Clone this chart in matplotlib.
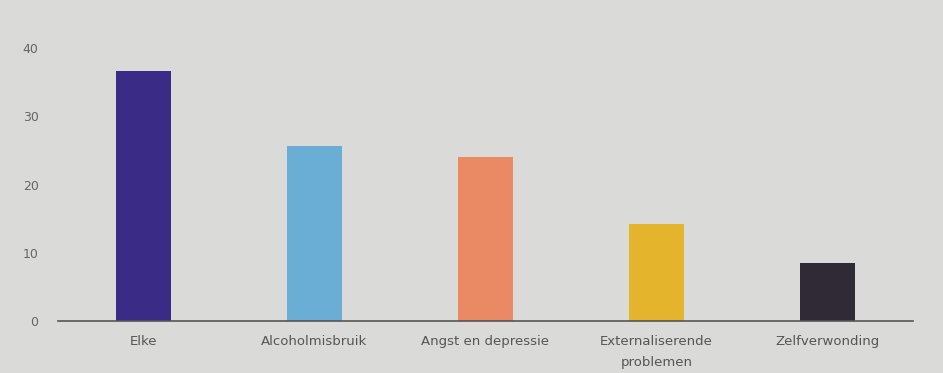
import matplotlib
matplotlib.use("Agg")
import matplotlib.pyplot as plt

categories = ["Elke", "Alcoholmisbruik", "Angst en depressie", "Externaliserende\nproblemen", "Zelfverwonding"]
values = [36.6, 25.6, 24.0, 14.2, 8.5]
colors = ["#3a2b86", "#6aaed6", "#ea8a65", "#e4b42c", "#2f2a36"]
yticks = [0, 10, 20, 30, 40]

bg = "#dadad8"
fig = plt.figure(figsize=(9.43, 3.73), dpi=100, facecolor=bg)
ax = fig.add_axes([0.0615, 0.139, 0.9065, 0.732], facecolor=bg)

x = list(range(len(categories)))
ax.bar(x, values, width=0.32, color=colors)
ax.set_xlim(-0.5, len(categories) - 0.5)
ax.set_ylim(0, 40)
ax.set_yticks(yticks)
ax.set_xticks(x)
ax.set_xticklabels(categories, fontsize=9.5, color="#555555", linespacing=1.75)
ax.tick_params(axis="y", labelsize=9, colors="#666666", length=0, pad=14)
ax.tick_params(axis="x", length=0, pad=10)
for s in ["top", "right", "left"]:
    ax.spines[s].set_visible(False)
ax.spines["bottom"].set_color("#555555")
ax.spines["bottom"].set_linewidth(1.2)

fig.savefig("out.png", dpi=100, facecolor=bg)
